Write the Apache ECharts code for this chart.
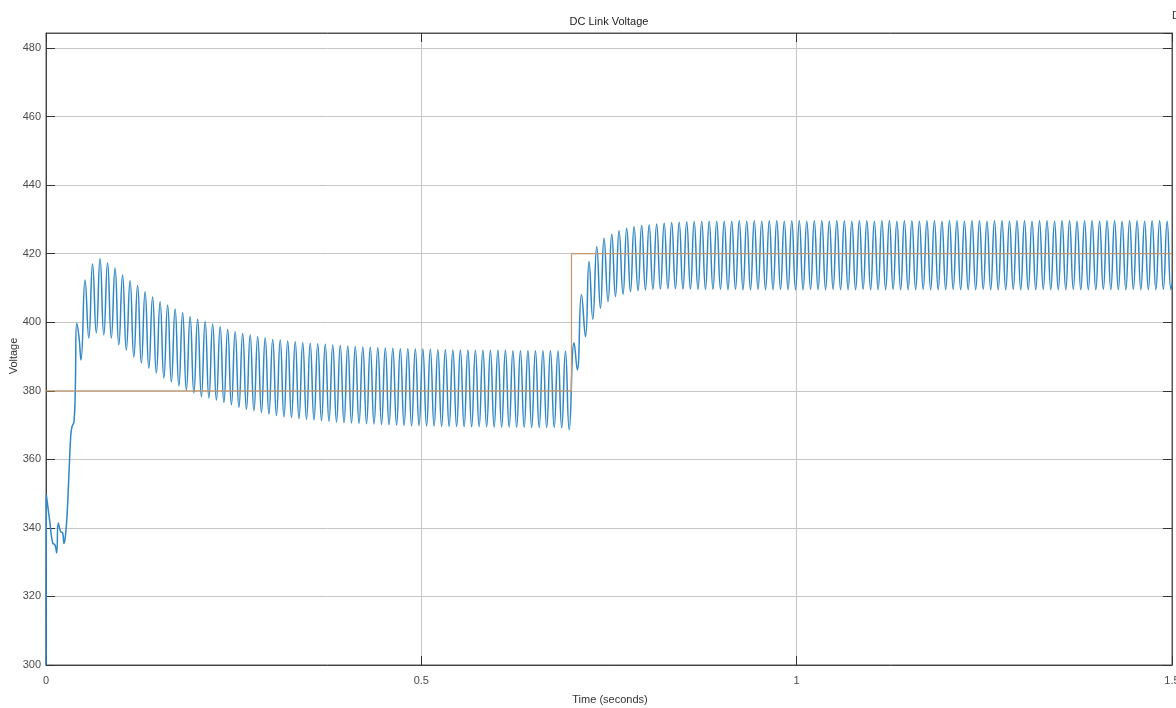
<!DOCTYPE html>
<html>
<head>
<meta charset="utf-8">
<script src="https://cdn.jsdelivr.net/npm/echarts@6/dist/echarts.min.js"></script>
<style>
html,body{margin:0;padding:0;background:#fff;}
#chart{width:1176px;height:708px;}
</style>
</head>
<body>
<div id="chart"></div>
<script>
// ---- Data ----
const chartTitle = 'DC Link Voltage';
const xAxisTitle = 'Time (seconds)';
const yAxisTitle = 'Voltage';
const xTicks = [0, 0.5, 1, 1.5];
const yTicks = [300, 320, 340, 360, 380, 400, 420, 440, 460, 480];

// Reference voltage (step at 0.7 s)
const refTimeS = [0, 0.7, 0.7, 1.5];
const refVolts = [380, 380, 420, 420];

// Measured DC link voltage: start-up transient
const startTimeMs = [0, 0.5, 1.3, 5.3, 8.9, 12.0, 14.2, 16.4, 19.6, 22.2, 24.0, 26.6, 28.4, 31.0, 32.9, 34.6, 37.3, 39.0, 40.9, 43.9, 46.6];
const startVolts  = [300, 349.6, 349.6, 341.4, 335.6, 335.0, 332.7, 341.4, 338.9, 338.5, 335.5, 339.4, 345.2, 357.9, 366.6, 369.5, 371.0, 380.2, 399.7, 395.8, 389.0];

// Ripple peaks / troughs while settling towards 380 V
const decayTimeMs = [52,57,62,67,72,77,82,87,92,97,102,107,112,117,122,127,132,137,142,147,
  152,157,162,167,172,177,182,187,192,197,202,207,212,217,222,227,232,237,242,247,
  252,257,262,267,272,277,282,287,292,297,302,307,312,317,322,327,332,337,342,347,
  352,357,362,367,372,377,382,387,392,397,402,407,412,417,422,427,432,437,442,447,
  452,457,462,467,472,477,482,487,492,497,502,507,512,517,522,527,532,537,542,547,
  552,557,562,567,572,577,582,587,592,597,602,607,612,617,622,627,632,637,642,647,
  652,657,662,667,672,677,682,687,692,697];
const decayVolts = [412.3,395.4,417.0,396.9,418.5,396.3,417.3,395.4,415.8,393.4,413.8,391.9,412.1,389.9,410.7,388.1,408.9,386.6,407.4,385.2,
  406.0,383.7,405.0,382.6,403.9,381.4,402.8,380.2,401.6,379.4,400.9,378.3,400.2,377.9,399.5,377.3,398.7,376.6,397.9,375.9,
  397.2,375.2,396.7,374.6,396.3,374.2,395.8,373.7,395.5,373.2,395.0,372.8,394.8,372.4,394.5,372.2,394.3,371.9,394.0,371.7,
  393.9,371.5,393.7,371.3,393.6,371.1,393.4,370.9,393.2,370.7,393.1,370.6,392.9,370.5,392.8,370.4,392.7,370.3,392.6,370.2,
  392.5,370.1,392.4,370.0,392.3,369.9,392.3,369.8,392.2,369.8,392.2,369.7,392.1,369.7,392.0,369.6,392.0,369.6,391.9,369.6,
  391.9,369.5,391.9,369.5,391.8,369.5,391.8,369.5,391.8,369.4,391.8,369.4,391.8,369.4,391.7,369.4,391.7,369.4,391.7,369.3,
  391.7,369.3,391.7,369.3,391.7,369.3,391.6,369.2,391.6,368.6];

// After the step to 420 V
const stepTimeMs = [703.5,707.8,713.3,718.7,723.4,728.4,733.7,738.6,743.4,748.7,753.7,758.6,763.4,768.7,773.6,778.6,783.4,788.7,
  793.5,798.5,803.5,808.5,813.5,818.5,823.5,828.5,833.5,838.5,843.5,848.5,
  853.5,858.5,863.5,868.5,873.5,878.5,883.5,888.5,893.5,898.5,
  903.5,908.5,913.5,918.5,923.5,928.5,933.5,938.5,943.5,948.5,953.5,958.5,963.5,968.5,973.5,978.5,983.5,988.5,993.5,998.5,
  1003.5,1008.5,1013.5,1018.5,1023.5,1028.5,1033.5,1038.5,1043.5,1048.5,1053.5,1058.5,1063.5,1068.5,1073.5,1078.5,1083.5,1088.5,1093.5,1098.5,
  1103.5,1108.5,1113.5,1118.5,1123.5,1128.5,1133.5,1138.5,1143.5,1148.5,1153.5,1158.5,1163.5,1168.5,1173.5,1178.5,1183.5,1188.5,1193.5,1198.5,
  1203.5,1208.5,1213.5,1218.5,1223.5,1228.5,1233.5,1238.5,1243.5,1248.5,1253.5,1258.5,1263.5,1268.5,1273.5,1278.5,1283.5,1288.5,1293.5,1298.5,
  1303.5,1308.5,1313.5,1318.5,1323.5,1328.5,1333.5,1338.5,1343.5,1348.5,1353.5,1358.5,1363.5,1368.5,1373.5,1378.5,1383.5,1388.5,1393.5,1398.5,
  1403.5,1408.5,1413.5,1418.5,1423.5,1428.5,1433.5,1438.5,1443.5,1448.5,1453.5,1458.5,1463.5,1468.5,1473.5,1478.5,1483.5,1488.5,1493.5,1498.5,
  1500];
const stepVolts = [394.0,386.1,408.0,395.8,417.7,400.9,422.0,404.1,424.5,406.0,425.7,407.5,426.7,408.2,427.4,408.9,427.9,409.2,
  428.2,409.4,428.4,409.6,428.7,409.7,428.9,409.8,429.1,409.8,429.2,409.7,
  429.3,409.7,429.4,409.6,429.4,409.6,429.5,409.6,429.5,409.6,
  429.5,409.5,429.5,409.6,429.6,409.5,429.5,409.5,429.6,409.6,429.5,409.5,429.6,409.5,429.6,409.6,429.5,409.5,429.6,409.5,
  429.6,409.5,429.5,409.6,429.6,409.5,429.6,409.5,429.5,409.6,429.6,409.5,429.6,409.5,429.5,409.5,429.6,409.6,429.6,409.5,
  429.5,409.5,429.6,409.5,429.6,409.6,429.5,409.5,429.6,409.5,429.6,409.5,429.5,409.6,429.6,409.5,429.6,409.5,429.5,409.5,
  429.6,409.6,429.6,409.5,429.5,409.5,429.6,409.5,429.6,409.6,429.5,409.5,429.6,409.5,429.6,409.5,429.5,409.6,429.6,409.5,
  429.6,409.5,429.5,409.5,429.6,409.6,429.6,409.5,429.5,409.5,429.6,409.5,429.6,409.6,429.5,409.5,429.6,409.5,429.6,409.5,
  429.5,409.6,429.6,409.5,429.6,409.5,429.5,409.5,429.6,409.6,429.6,409.5,429.5,409.5,429.6,409.5,429.6,409.6,429.5,409.5,
  411.5];

// ---- Build series data ----
function zipMs(times, volts) { return times.map((t, i) => [t / 1000, volts[i]]); }
const measured = [].concat(zipMs(startTimeMs, startVolts), zipMs(decayTimeMs, decayVolts), zipMs(stepTimeMs, stepVolts));
const reference = refTimeS.map((t, i) => [t, refVolts[i]]);

const FONT = 'Liberation Sans, Arial, sans-serif';
const chart = echarts.init(document.getElementById('chart'), null, { renderer: 'canvas' });

const yMin = yTicks[0], yMaxTick = yTicks[yTicks.length - 1];
const yStep = yTicks[1] - yTicks[0];
const xStep = xTicks[1] - xTicks[0];

const option = {
  animation: false,
  backgroundColor: '#ffffff',
  grid: { left: 46, right: 4, top: 33, bottom: 43, show: true, borderColor: '#555', borderWidth: 1,
    containLabel: false, outerBoundsMode: 'none' },
  xAxis: [{
    type: 'value', min: xTicks[0], max: xTicks[xTicks.length - 1], interval: xStep,
    axisLine: { show: true, onZero: false, lineStyle: { color: '#444', width: 1 } },
    axisTick: { show: true, inside: true, length: 9, lineStyle: { color: '#333' } },
    axisLabel: { color: '#4a4a4a', fontSize: 11, fontFamily: FONT, margin: 10 },
    splitLine: { show: true, lineStyle: { color: '#c6c6c6', width: 1 } }
  }, {
    type: 'value', position: 'top', min: xTicks[0], max: xTicks[xTicks.length - 1], interval: xStep,
    axisLine: { show: true, onZero: false, lineStyle: { color: '#555' } },
    axisTick: { show: true, inside: true, length: 9, lineStyle: { color: '#333' } },
    axisLabel: { show: false }, splitLine: { show: false }
  }],
  yAxis: [{
    type: 'value', min: yMin, max: 484.4, interval: yStep,
    axisLine: { show: true, onZero: false, lineStyle: { color: '#444', width: 1 } },
    axisTick: { show: true, inside: true, length: 9, lineStyle: { color: '#333' } },
    axisLabel: { color: '#4a4a4a', fontSize: 11, fontFamily: FONT, margin: 5, showMaxLabel: false,
      formatter: v => (v <= yMaxTick ? String(v) : '') },
    splitLine: { show: true, lineStyle: { color: '#c6c6c6', width: 1 } }
  }, {
    type: 'value', position: 'right', min: yMin, max: 484.4, interval: yStep,
    axisLine: { show: true, onZero: false, lineStyle: { color: '#555' } },
    axisTick: { show: true, inside: true, length: 9, lineStyle: { color: '#333' } },
    axisLabel: { show: false }, splitLine: { show: false }
  }],
  series: [{
    name: 'Vdc', type: 'line', data: measured, xAxisIndex: 0, yAxisIndex: 0,
    showSymbol: false, smooth: 0.5, sampling: null,
    lineStyle: { color: '#2f87c4', width: 1.5 }, z: 2
  }, {
    name: 'Vref', type: 'line', data: reference, xAxisIndex: 0, yAxisIndex: 0,
    showSymbol: false, lineStyle: { color: '#c4976f', width: 1.2 }, z: 3
  }],
  graphic: [
    { type: 'text', x: 609, y: 22, style: { text: chartTitle, fill: '#222', font: '11px ' + FONT, textAlign: 'center', textVerticalAlign: 'middle' } },
    { type: 'text', x: 610, y: 700, style: { text: xAxisTitle, fill: '#333', font: '11px ' + FONT, textAlign: 'center', textVerticalAlign: 'middle' } },
    { type: 'text', x: 14, y: 356, rotation: Math.PI / 2, style: { text: yAxisTitle, fill: '#333', font: '11px ' + FONT, textAlign: 'center', textVerticalAlign: 'middle' } },
    { type: 'text', x: 1172, y: 16, style: { text: 'D', fill: '#333', font: '11px ' + FONT, textAlign: 'left', textVerticalAlign: 'middle' } }
  ]
};
chart.setOption(option);
</script>
</body>
</html>
